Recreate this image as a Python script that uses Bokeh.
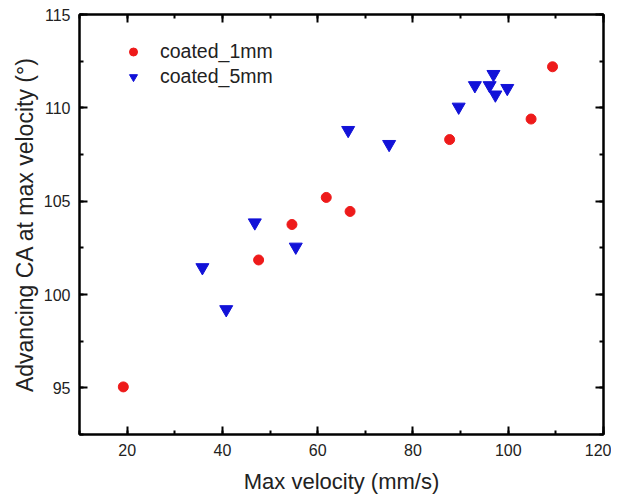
from bokeh.plotting import figure
from bokeh.embed import file_html
from bokeh.resources import INLINE
from bokeh.models import (LinearAxis, SingleIntervalTicker, Range1d, Legend, LegendItem)

# data
v_1mm = [19.2, 47.6, 54.6, 61.8, 66.8, 87.7, 104.8, 109.3]
ca_1mm = [95.05, 101.85, 103.75, 105.2, 104.45, 108.3, 109.4, 112.2]
v_5mm = [35.8, 40.8, 46.8, 55.4, 66.4, 75.0, 89.6, 93.0, 96.1, 96.9, 97.3, 99.8]
ca_5mm = [101.45, 99.2, 103.85, 102.55, 108.8, 108.05, 110.05, 111.2, 111.2, 111.8, 110.7, 111.05]

FONT = "Liberation Sans"

p = figure(width=611, height=496, output_backend="svg", toolbar_location=None,
           x_range=Range1d(10, 120), y_range=Range1d(92.5, 115),
           min_border_left=79, min_border_right=8, min_border_top=14, min_border_bottom=61)
p.xaxis.visible = False
p.yaxis.visible = False
p.grid.visible = False
p.outline_line_color = "black"
p.outline_line_width = 2

def style(ax, labels=True):
    ax.axis_line_width = 2
    ax.axis_line_color = "black"
    ax.major_tick_in = 8
    ax.major_tick_out = 0
    ax.minor_tick_in = 4
    ax.minor_tick_out = 0
    ax.major_tick_line_width = 2
    ax.minor_tick_line_width = 2
    ax.major_label_text_font = FONT
    ax.major_label_text_font_size = "16px"
    ax.major_label_text_color = "#222222"
    ax.axis_label_text_font = FONT
    ax.axis_label_text_font_size = "22px"
    ax.axis_label_text_font_style = "normal"
    ax.axis_label_text_color = "#222222"
    if not labels:
        ax.major_label_text_font_size = "0px"
        ax.major_label_text_alpha = 0

xt = SingleIntervalTicker(interval=20, num_minor_ticks=2)
yt = SingleIntervalTicker(interval=5, num_minor_ticks=2)

xb = LinearAxis(ticker=xt, axis_label="Max velocity (mm/s)")
style(xb)
xb.major_label_standoff = 9
xb.axis_label_standoff = 10
p.add_layout(xb, "below")

yl = LinearAxis(ticker=yt, axis_label="Advancing CA at max velocity (°)")
style(yl)
yl.axis_label_text_font_size = "23px"
yl.major_label_standoff = 9
yl.axis_label_standoff = 3
p.add_layout(yl, "left")

xa = LinearAxis(ticker=SingleIntervalTicker(interval=20, num_minor_ticks=2))
style(xa, labels=False)
xa.major_label_standoff = 0
p.add_layout(xa, "above")

yr = LinearAxis(ticker=SingleIntervalTicker(interval=5, num_minor_ticks=2))
style(yr, labels=False)
yr.major_label_standoff = 0
p.add_layout(yr, "right")

r1 = p.scatter(v_1mm, ca_1mm, marker="circle", size=10, fill_color="#ee1a1a", line_color="#ee1a1a")
r2 = p.scatter(v_5mm, ca_5mm, marker="inverted_triangle", size=13, fill_color="#1212d8", line_color="#1212d8")

legend = Legend(items=[LegendItem(label="coated_1mm", renderers=[r1]),
                       LegendItem(label="coated_5mm", renderers=[r2])],
                location=(44, 345), border_line_alpha=0, background_fill_alpha=0,
                padding=0, margin=0, spacing=0, glyph_width=20, glyph_height=25,
                label_height=25, label_standoff=17,
                label_text_font=FONT, label_text_font_size="19.5px", label_text_color="#222222")
p.add_layout(legend, "center")

open("out.html", "w").write(file_html(p, INLINE))
